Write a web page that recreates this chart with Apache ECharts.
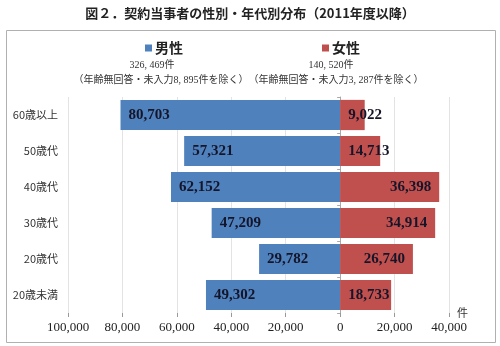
<!DOCTYPE html>
<html>
<head>
<meta charset="utf-8">
<script src="https://cdn.jsdelivr.net/npm/echarts@6/dist/echarts.min.js"></script>
<style>
html,body{margin:0;padding:0;background:#fff;}
#main{width:500px;height:346px;}
</style>
</head>
<body>
<div id="main"></div>
<script>
var categories = ['60歳以上', '50歳代', '40歳代', '30歳代', '20歳代', '20歳未満'];
var maleValues = [80703, 57321, 62152, 47209, 29782, 49302];
var femaleValues = [9022, 14713, 36398, 34914, 26740, 18733];
var xTicks = { min: -100000, max: 40000, interval: 20000 };
var titleText = '図２．契約当事者の性別・年代別分布（2011年度以降）';
var maleTotal = '326, 469件';
var femaleTotal = '140, 520件';
var maleNote = '（年齢無回答・未入力8, 895件を除く）';
var femaleNote = '（年齢無回答・未入力3, 287件を除く）';
var unitLabel = '件';

function fmt(v) {
  return Math.abs(v).toString().replace(/\B(?=(\d{3})+(?!\d))/g, ',');
}

var numFont = "'Liberation Serif', 'Noto Sans CJK JP', serif";
var cjkFont = "'Noto Sans CJK JP', sans-serif";
var labelStyle = { fontFamily: numFont, fontSize: 15, fontWeight: 'bold', color: '#15152a', distance: 8 };

var chart = echarts.init(document.getElementById('main'), null, { renderer: 'canvas' });
chart.setOption({
  animation: false,
  backgroundColor: '#fff',
  title: {
    text: titleText,
    left: 'center',
    top: 7,
    padding: 0,
    textStyle: { fontFamily: cjkFont, fontSize: 13, fontWeight: 'bold', color: '#222' }
  },
  legend: [
    { data: ['男性'], left: 145, top: 41, icon: 'rect', itemWidth: 7, itemHeight: 7, itemGap: 3, padding: 0,
      textStyle: { fontFamily: cjkFont, fontSize: 14, fontWeight: 'bold', color: '#222', padding: [0, 0, 0, -2] } },
    { data: ['女性'], left: 322, top: 41, icon: 'rect', itemWidth: 7, itemHeight: 7, itemGap: 3, padding: 0,
      textStyle: { fontFamily: cjkFont, fontSize: 14, fontWeight: 'bold', color: '#222', padding: [0, 0, 0, -2] } }
  ],
  graphic: [
    { type: 'rect', z: -10, shape: { x: 6.5, y: 30.5, width: 489, height: 312 },
      style: { fill: 'none', stroke: '#b0b0b0', lineWidth: 1 } },
    { type: 'text', x: 152, y: 65, style: { text: maleTotal, align: 'center', verticalAlign: 'middle', font: "10px " + numFont, fill: '#333' } },
    { type: 'text', x: 161, y: 80, style: { text: maleNote, align: 'center', verticalAlign: 'middle', font: "10px " + numFont, fill: '#333' } },
    { type: 'text', x: 331, y: 65, style: { text: femaleTotal, align: 'center', verticalAlign: 'middle', font: "10px " + numFont, fill: '#333' } },
    { type: 'text', x: 336, y: 80, style: { text: femaleNote, align: 'center', verticalAlign: 'middle', font: "10px " + numFont, fill: '#333' } }
  ],
  grid: { left: 68, right: 51, top: 97, bottom: 33, containLabel: false },
  xAxis: {
    type: 'value',
    min: xTicks.min, max: xTicks.max, interval: xTicks.interval,
    name: unitLabel,
    nameLocation: 'end',
    nameGap: 8,
    nameTextStyle: { fontFamily: cjkFont, fontSize: 11, color: '#333', padding: [6, 0, 0, 0] },
    axisLine: { onZero: false, lineStyle: { color: '#999' } },
    axisTick: { show: true, length: 4, lineStyle: { color: '#999' } },
    axisLabel: { formatter: fmt, fontFamily: numFont, fontSize: 13, color: '#222', margin: 8 },
    splitLine: { show: true, lineStyle: { color: '#e3e3e3' } }
  },
  yAxis: [
    {
      type: 'category', data: categories, inverse: true,
      axisLine: { show: false, onZero: false },
      axisTick: { show: false },
      axisLabel: { fontFamily: cjkFont, fontSize: 11, color: '#333', margin: 10 }
    },
    {
      type: 'category', data: categories, inverse: true, position: 'left',
      axisLine: { show: true, onZero: true, lineStyle: { color: '#aaa' } },
      axisTick: { show: true, length: 3, lineStyle: { color: '#aaa' } },
      axisLabel: { show: false }
    }
  ],
  series: [
    {
      name: '男性', type: 'bar', stack: 'total', yAxisIndex: 0,
      barCategoryGap: '16%',
      itemStyle: { color: '#4F81BD' },
      label: Object.assign({ show: true, position: 'insideLeft', formatter: function (p) { return fmt(p.value); } }, labelStyle),
      data: maleValues.map(function (v) { return -v; })
    },
    {
      name: '女性', type: 'bar', stack: 'total', yAxisIndex: 0,
      barCategoryGap: '16%',
      itemStyle: { color: '#C0504D' },
      label: Object.assign({ show: true, position: 'insideRight', formatter: function (p) { return fmt(p.value); } }, labelStyle),
      data: femaleValues.map(function (v) {
        return v < 20000 ? { value: v, label: { position: 'insideLeft' } } : v;
      })
    }
  ]
});
</script>
</body>
</html>
